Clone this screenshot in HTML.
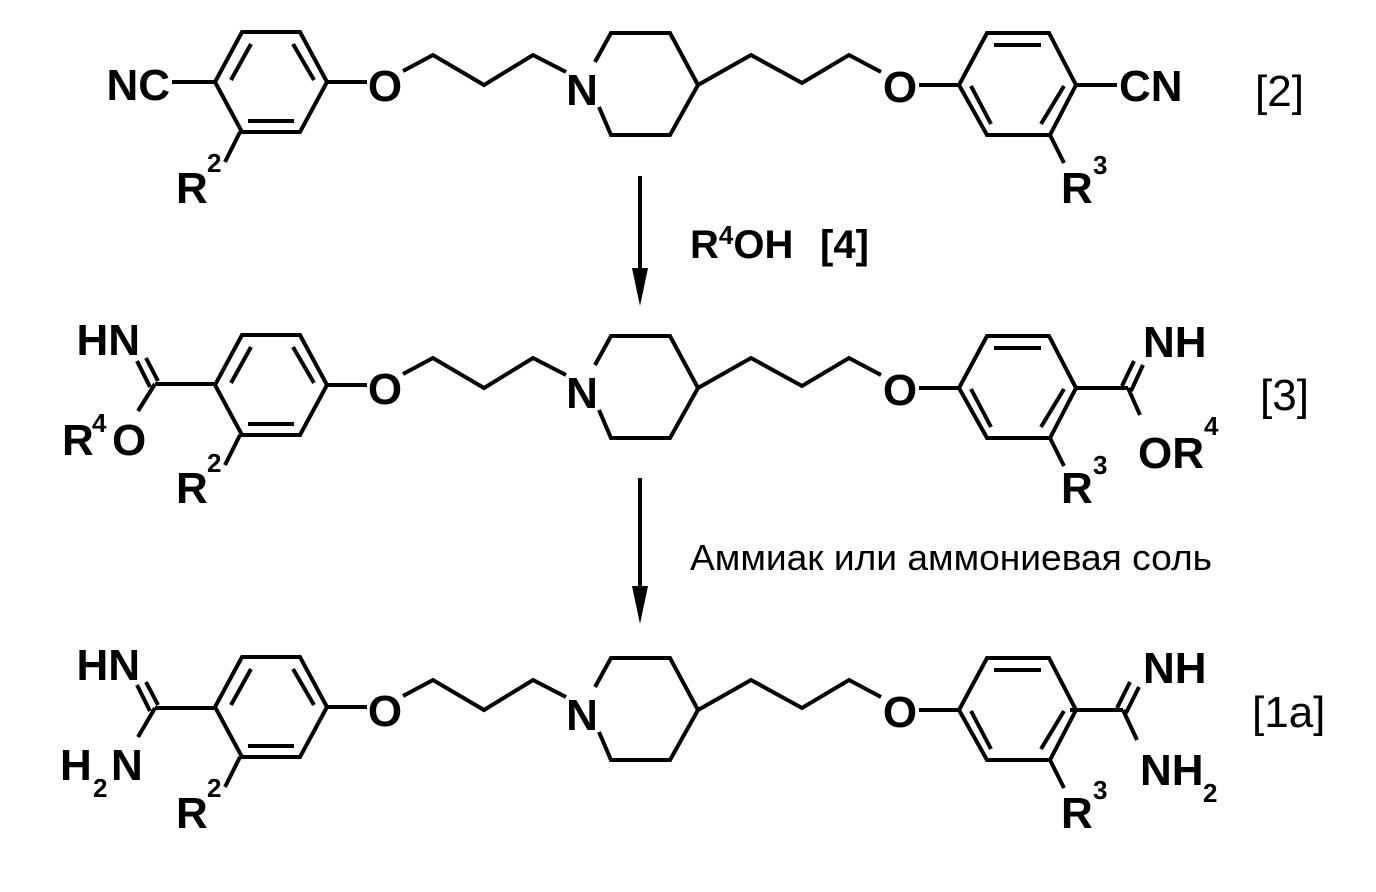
<!DOCTYPE html>
<html><head><meta charset="utf-8"><style>
html,body{margin:0;padding:0;background:#fff;}
svg{display:block;}
text{font-family:"Liberation Sans",sans-serif;fill:#000;}
.b{font-weight:bold;font-size:44px;}
.s{font-weight:bold;font-size:26px;}
.l{font-size:44px;}
</style></head><body>
<svg width="1376" height="892" viewBox="0 0 1376 892" xmlns="http://www.w3.org/2000/svg">
<defs>
<g id="core" fill="none" stroke="#000" stroke-width="4" stroke-linejoin="miter">
<polygon points="242,32 300,32 327,82 300,132 242,132 215,82"/>
<line x1="251" y1="44" x2="231" y2="80"/>
<line x1="293" y1="44" x2="314" y2="80"/>
<line x1="248" y1="121" x2="294" y2="121"/>
<line x1="327" y1="82" x2="367" y2="82"/>
<polyline points="403,71 433,55 484,85 533,55 566,72"/>
<polyline points="595,62 611,33 670,33 698,85 670,135 611,135 599,107"/>
<polyline points="698,85 751,55 802,83 849,55 881,72"/>
<line x1="919" y1="85" x2="959" y2="85"/>
<polygon points="959,85 987,33 1049,33 1076,85 1050,135 987,135"/>
<line x1="994" y1="45" x2="1041" y2="45"/>
<line x1="971" y1="86" x2="991" y2="124"/>
<line x1="1064" y1="86" x2="1041" y2="124"/>
<line x1="240" y1="132" x2="225" y2="162"/>
<line x1="1050" y1="135" x2="1064" y2="163"/>
</g>
</defs>

<!-- Molecule 1 -->
<g>
<use href="#core"/>
<text class="b" x="385" y="101" text-anchor="middle">O</text>
<text class="b" x="582" y="105" text-anchor="middle">N</text>
<text class="b" x="900" y="102" text-anchor="middle">O</text>
<text class="b" x="176" y="203">R</text><text class="s" x="207" y="172">2</text>
<text class="b" x="1061" y="203">R</text><text class="s" x="1093" y="174">3</text>
<line x1="172" y1="82" x2="215" y2="82" stroke="#000" stroke-width="4"/>
<line x1="1076" y1="85" x2="1117" y2="85" stroke="#000" stroke-width="4"/>
<text class="b" x="170" y="100" text-anchor="end">NC</text>
<text class="b" x="1119" y="101">CN</text>
<text class="l" x="1255" y="106">[2]</text>
</g>

<!-- Arrow 1 -->
<line x1="640" y1="176" x2="640" y2="280" stroke="#000" stroke-width="4"/>
<polygon points="632,268 648,268 640,306" fill="#000"/>
<text class="b" x="690" y="258" style="font-size:40px">R<tspan style="font-size:26px" dy="-14">4</tspan><tspan dy="14">OH</tspan></text>
<text class="b" x="820" y="258" style="font-size:40px">[4]</text>

<!-- Molecule 2 -->
<g transform="translate(0,303)">
<use href="#core"/>
<text class="b" x="385" y="101" text-anchor="middle">O</text>
<text class="b" x="582" y="105" text-anchor="middle">N</text>
<text class="b" x="900" y="102" text-anchor="middle">O</text>
<text class="b" x="176" y="200">R</text><text class="s" x="207" y="169">2</text>
<text class="b" x="1061" y="200">R</text><text class="s" x="1093" y="171">3</text>
<g stroke="#000" stroke-width="4">
<line x1="155" y1="81" x2="215" y2="81"/>
<line x1="150" y1="84" x2="137" y2="58"/>
<line x1="158" y1="78" x2="146" y2="55"/>
<line x1="155" y1="81" x2="138" y2="108"/>
<line x1="1076" y1="85" x2="1128" y2="85"/>
<line x1="1122" y1="83" x2="1134" y2="58"/>
<line x1="1131" y1="88" x2="1143" y2="62"/>
<line x1="1128" y1="85" x2="1140" y2="112"/>
</g>
<text class="b" x="140" y="52" text-anchor="end">HN</text>
<text class="b" x="62" y="152">R</text><text class="s" x="92" y="129">4</text>
<text class="b" x="112" y="152">O</text>
<text class="b" x="1143" y="54">NH</text>
<text class="b" x="1138" y="165">OR</text><text class="s" x="1204" y="132">4</text>
<text class="l" x="1260" y="107">[3]</text>
</g>

<!-- Arrow 2 -->
<line x1="640" y1="478" x2="640" y2="598" stroke="#000" stroke-width="4"/>
<polygon points="632,586 648,586 640,624" fill="#000"/>
<text x="690" y="570" style="font-size:36px" textLength="522" lengthAdjust="spacingAndGlyphs">Аммиак или аммониевая соль</text>

<!-- Molecule 3 -->
<g transform="translate(0,625)">
<use href="#core"/>
<text class="b" x="385" y="101" text-anchor="middle">O</text>
<text class="b" x="582" y="105" text-anchor="middle">N</text>
<text class="b" x="900" y="102" text-anchor="middle">O</text>
<text class="b" x="176" y="203">R</text><text class="s" x="207" y="172">2</text>
<text class="b" x="1061" y="203">R</text><text class="s" x="1093" y="174">3</text>
<g stroke="#000" stroke-width="4">
<line x1="155" y1="83" x2="215" y2="83"/>
<line x1="150" y1="86" x2="137" y2="60"/>
<line x1="158" y1="80" x2="146" y2="57"/>
<line x1="155" y1="83" x2="138" y2="112"/>
<line x1="1070" y1="85" x2="1123" y2="85"/>
<line x1="1117" y1="83" x2="1130" y2="57"/>
<line x1="1126" y1="88" x2="1139" y2="62"/>
<line x1="1123" y1="85" x2="1137" y2="115"/>
</g>
<text class="b" x="140" y="55" text-anchor="end">HN</text>
<text class="b" x="60" y="155">H</text><text class="s" x="93" y="172">2</text><text class="b" x="111" y="155">N</text>
<text class="b" x="1143" y="58">NH</text>
<text class="b" x="1140" y="160">NH</text><text class="s" x="1203" y="177">2</text>
<text class="l" x="1252" y="102">[1a]</text>
</g>
</svg>
</body></html>
